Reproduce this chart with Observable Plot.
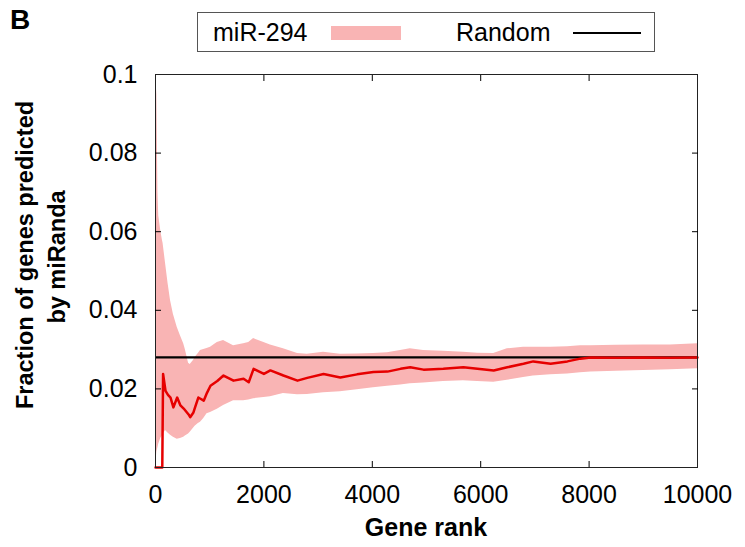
<!DOCTYPE html>
<html><head><meta charset="utf-8">
<script src="https://cdn.jsdelivr.net/npm/d3@7"></script>
<script src="https://cdn.jsdelivr.net/npm/@observablehq/plot@0.6"></script>
<style>
body{margin:0;background:#fff;}
#wrap{position:relative;width:745px;height:547px;font-family:"Liberation Sans",Arial,sans-serif;color:#000;}
#panel{position:absolute;left:10px;top:6px;font-size:28px;font-weight:bold;line-height:28px;}
#legend{position:absolute;left:197px;top:12px;width:458px;height:40px;border:1px solid #555;box-sizing:border-box;font-size:25px;}
#legend .t{position:absolute;top:0;line-height:38px;}
#legend .sw{position:absolute;left:133px;top:13px;width:70px;height:14px;}
#legend .ln{position:absolute;left:375px;top:19px;width:68px;height:2px;background:#000;}
#chart{position:absolute;left:0;top:0;}
</style></head><body>
<div id="wrap">
  <div id="chart"></div>
  <div id="panel">B</div>
  <div id="legend">
    <span class="t" style="left:15px">miR-294</span>
    <span class="sw" id="sw"></span>
    <span class="t" style="left:258px">Random</span>
    <span class="ln"></span>
  </div>
</div>
<script>
// Gene rank positions where values were read
const ranks = [0, 25, 45, 60, 100, 125, 140, 185, 230, 277, 330, 400, 460, 520, 550, 610, 640, 700, 730, 790, 830, 890, 950, 1015, 1140, 1255, 1440, 1625, 1720, 1810, 2000, 2120, 2360, 2620, 2800, 3100, 3410, 3720, 4020, 4280, 4520, 4700, 4945, 5310, 5680, 5940, 6240, 6490, 6790, 6970, 7290, 7600, 7840, 8030, 8500, 9000, 9500, 10000];
// miR-294 fraction (red line)
const mirMean = [0, 0, 0, 0, 0, 0, 0.0238, 0.0195, 0.0185, 0.0178, 0.0153, 0.0178, 0.0158, 0.015, 0.0145, 0.0135, 0.0128, 0.014, 0.0153, 0.0178, 0.0175, 0.017, 0.019, 0.0208, 0.022, 0.0234, 0.0221, 0.0226, 0.0217, 0.0251, 0.0238, 0.0247, 0.0234, 0.0221, 0.0228, 0.0238, 0.0229, 0.0237, 0.0243, 0.0244, 0.0251, 0.0255, 0.0249, 0.0251, 0.0255, 0.0251, 0.0247, 0.0255, 0.0264, 0.027, 0.0264, 0.027, 0.0277, 0.028, 0.0279, 0.028, 0.0279, 0.028];
// upper / lower edges of the shaded band
const mirUpper = [0.1, 0.095, 0.07, 0.064, 0.06, 0.058, 0.057, 0.052, 0.047, 0.0425, 0.039, 0.0357, 0.0335, 0.0315, 0.03, 0.0265, 0.0262, 0.0272, 0.028, 0.029, 0.0298, 0.03, 0.0303, 0.0306, 0.0318, 0.0323, 0.031, 0.0315, 0.0318, 0.0328, 0.0318, 0.0312, 0.0302, 0.029, 0.0288, 0.0293, 0.0288, 0.0289, 0.029, 0.0292, 0.0298, 0.0302, 0.0298, 0.0296, 0.0293, 0.0291, 0.029, 0.0302, 0.0306, 0.0306, 0.0306, 0.0307, 0.031, 0.031, 0.0311, 0.0312, 0.0312, 0.0315];
const mirLower = [0, 0.004, 0.005, 0.006, 0.0075, 0.008, 0.0085, 0.0094, 0.0088, 0.0082, 0.0077, 0.0072, 0.0074, 0.0077, 0.008, 0.0085, 0.009, 0.01, 0.0105, 0.0112, 0.0115, 0.0125, 0.0137, 0.014, 0.0148, 0.0158, 0.017, 0.017, 0.0172, 0.0175, 0.0178, 0.018, 0.0188, 0.0185, 0.0186, 0.019, 0.0193, 0.0198, 0.0203, 0.0207, 0.021, 0.0213, 0.0215, 0.0219, 0.0221, 0.0219, 0.0217, 0.0222, 0.0229, 0.0233, 0.0236, 0.0238, 0.0241, 0.0243, 0.0245, 0.0247, 0.0249, 0.0251];
const randomLevel = [0.028];
const xTicks = [0, 2000, 4000, 6000, 8000, 10000];
const yTicks = [0, 0.02, 0.04, 0.06, 0.08, 0.1];

const bandColor = "#f9b4b4";
const lineColor = "#e60000";
document.getElementById("sw").style.background = bandColor;

const rows = ranks.map((r, i) => ({rank: r, mean: mirMean[i], lo: mirLower[i], hi: mirUpper[i]}));
const inner = xTicks.slice(1, -1);
const innerY = yTicks.slice(1, -1);

const plot = Plot.plot({
  width: 745, height: 547,
  marginLeft: 155, marginRight: 48, marginTop: 74, marginBottom: 80,
  style: {fontFamily: '"Liberation Sans", Arial, sans-serif', fontSize: "25px", color: "#000", background: "transparent", overflow: "visible"},
  x: {domain: [0, 10000]},
  y: {domain: [0, 0.1]},
  marks: [
    Plot.areaY(rows, {x: "rank", y1: "lo", y2: "hi", fill: bandColor}),
    Plot.ruleY(randomLevel, {stroke: "#000", strokeWidth: 2.2}),
    Plot.lineY(rows, {x: "rank", y: "mean", stroke: lineColor, strokeWidth: 2.5}),
    Plot.frame({stroke: "#222"}),
    Plot.axisX({ticks: xTicks, tickSize: 0, tickPadding: 18, tickFormat: d => String(d), label: null}),
    Plot.axisX({ticks: inner, tickSize: 6, dy: -6, text: null, label: null}),
    Plot.axisX({anchor: "top", ticks: inner, tickSize: 6, dy: 6, text: null, label: null}),
    Plot.axisY({ticks: yTicks, tickSize: 0, tickPadding: 18, tickFormat: d3.format("~g"), label: null}),
    Plot.axisY({ticks: innerY, tickSize: 6, dx: 6, text: null, label: null}),
    Plot.axisY({anchor: "right", ticks: innerY, tickSize: 6, dx: -6, text: null, label: null})
  ]
});
document.getElementById("chart").appendChild(plot);

const svg = d3.select(plot);
const ff = '"Liberation Sans", Arial, sans-serif';
svg.append("text").attr("transform", "translate(426,527)").attr("text-anchor", "middle").attr("dy", "0.35em")
  .style("font-family", ff).style("font-size", "25px").style("font-weight", "bold").text("Gene rank");
svg.append("text").attr("transform", "translate(25,255) rotate(-90)").attr("text-anchor", "middle").attr("dy", "0.35em")
  .style("font-family", ff).style("font-size", "23.5px").style("font-weight", "bold").text("Fraction of genes predicted");
svg.append("text").attr("transform", "translate(57,257) rotate(-90)").attr("text-anchor", "middle").attr("dy", "0.35em")
  .style("font-family", ff).style("font-size", "23.5px").style("font-weight", "bold").text("by miRanda");
</script>
</body></html>
